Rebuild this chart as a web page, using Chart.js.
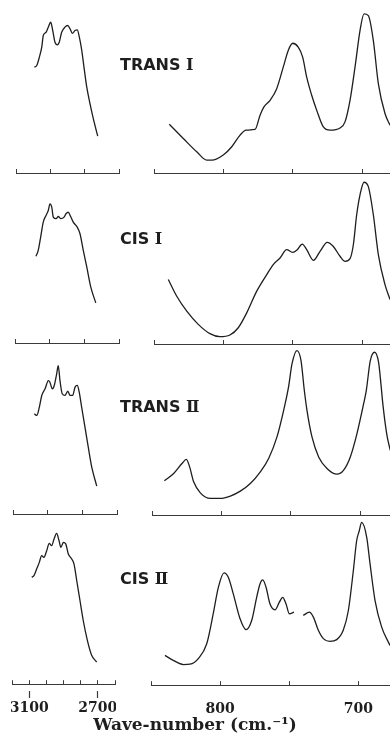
<!DOCTYPE html>
<html>
<head>
<meta charset="utf-8">
<script src="https://cdn.jsdelivr.net/npm/chart.js@4.4.1/dist/chart.umd.min.js"></script>
<style>
  html, body { margin: 0; padding: 0; background: #ffffff; }
  #stage { position: relative; width: 390px; height: 737px; overflow: hidden; background: #ffffff; }
  .box { position: absolute; }
  .box canvas { display: block; }
  .lab { position: absolute; font: bold 16px "DejaVu Sans", sans-serif; color: #1e1e1e; white-space: nowrap; line-height: 1; }
  .lab .num { font-family: "DejaVu Serif", serif; }
  #title { position: absolute; left: 0; width: 390px; text-align: center; font: bold 17px "DejaVu Serif", serif; color: #1e1e1e; white-space: nowrap; line-height: 1; }
</style>
</head>
<body>
<div id="stage"></div>
<script>
// ---------------- data (wave-number in cm-1, relative absorption 0..100) ----------------
const transI_chWn  = [3093, 3079, 3064, 3050, 3041, 3025, 3012, 2998, 2986, 2973, 2959, 2948, 2934, 2915, 2899, 2885, 2872, 2856, 2843, 2831, 2817, 2804, 2788, 2769, 2750, 2724];
const transI_chAbs = [62.5, 63.5, 68.4, 74.3, 81.2, 83.1, 86.1, 89.0, 84.1, 77.2, 75.7, 77.2, 83.1, 86.1, 87.1, 85.1, 82.5, 84.1, 84.5, 80.2, 72.4, 62.5, 50.8, 41.0, 32.2, 21.8];
const transI_lowWn  = [839, 828.9, 819.2, 812, 808.4, 800.1, 794, 788, 783.7, 777.2, 773.6, 770.8, 766.4, 761.6, 756.9, 753.3, 750.1, 746.1, 742.9, 740, 736.4, 732.8, 728, 723.2, 716, 712.4, 708.8, 705.2, 701.6, 698.7, 695.6, 692, 688.4, 683.6, 680];
const transI_lowAbs = [28.8, 20.4, 12.5, 7.6, 7.6, 10.6, 15.5, 22.4, 25.3, 25.7, 34.1, 39.0, 42.9, 49.8, 62.5, 72.4, 76.6, 74.3, 68.4, 56.6, 45.9, 37.1, 27.2, 25.3, 26.6, 30.2, 42.9, 62.5, 84.1, 93.9, 92.9, 78.2, 52.8, 35.1, 28.2];

const cisI_chWn  = [3079, 3066, 3052, 3037, 3021, 3008, 2998, 2988, 2979, 2963, 2950, 2935, 2917, 2906, 2893, 2879, 2864, 2841, 2825, 2806, 2786, 2763, 2734];
const cisI_chAbs = [51.2, 54.7, 62.5, 71.4, 75.3, 78.2, 82.2, 80.2, 74.3, 73.4, 74.7, 73.4, 74.3, 76.3, 77.2, 74.7, 71.4, 68.4, 64.5, 54.7, 44.9, 33.1, 23.7];
const cisI_lowWn  = [839.7, 833.6, 826.4, 818.1, 809.7, 802.5, 795.3, 789.3, 783.2, 776, 768.8, 764.1, 759.2, 754.4, 750.1, 746.8, 743.2, 740, 735.2, 730.4, 725.2, 720.8, 716, 712.4, 708.8, 706.4, 704, 701.6, 698.7, 695.6, 692, 688.4, 683.6, 680];
const cisI_lowAbs = [38.1, 28.2, 19.4, 11.6, 6.1, 4.3, 5.3, 9.6, 18.4, 31.2, 41.0, 46.9, 50.8, 55.7, 54.1, 55.7, 59.0, 55.7, 49.4, 54.7, 60.0, 57.6, 51.8, 48.8, 50.4, 58.6, 76.3, 88.1, 95.5, 92.9, 76.3, 52.8, 35.1, 26.3];

const transII_chWn  = [3077, 3063, 3048, 3034, 3015, 2996, 2987, 2973, 2962, 2948, 2939, 2929, 2916, 2900, 2884, 2871, 2856, 2842, 2829, 2818, 2804, 2785, 2766, 2746, 2717];
const transII_chAbs = [59.2, 58.2, 63.1, 70.0, 73.9, 78.8, 77.8, 73.9, 75.9, 82.8, 87.6, 78.8, 71.0, 70.0, 72.5, 70.0, 70.0, 74.9, 75.9, 71.9, 63.1, 51.4, 39.6, 27.8, 16.5];
const transII_lowWn  = [841.1, 834.4, 828.4, 825.3, 822.9, 820.0, 815.2, 808.0, 800.8, 793.6, 786.4, 779.2, 772.0, 766.0, 760.0, 755.2, 751.6, 749.2, 745.6, 742.7, 740.3, 738.4, 734.8, 730.0, 724.0, 716.8, 712.0, 707.2, 702.4, 697.6, 695.7, 692.8, 689.7, 686.8, 685.1, 683.7, 680.8, 678.4];
const transII_lowAbs = [20.2, 24.5, 30.4, 32.8, 28.4, 19.6, 13.1, 9.8, 9.8, 11.2, 14.1, 18.6, 25.5, 33.4, 46.1, 61.8, 75.9, 89.2, 97.1, 91.2, 73.5, 61.8, 46.1, 34.3, 27.5, 24.1, 26.5, 34.3, 48.1, 65.7, 73.5, 91.2, 96.1, 90.0, 77.0, 65.0, 47.0, 38.2];

const cisII_chWn  = [3085, 3072, 3056, 3041, 3027, 3014, 2998, 2983, 2969, 2955, 2940, 2926, 2915, 2901, 2887, 2872, 2852, 2839, 2823, 2804, 2785, 2761, 2736, 2707];
const cisII_chAbs = [63.1, 64.1, 68.1, 71.9, 75.9, 74.9, 78.8, 83.1, 81.8, 85.7, 89.0, 84.7, 80.8, 83.7, 82.8, 76.9, 73.9, 71.0, 61.2, 49.4, 37.6, 25.9, 17.1, 13.1];
const cisII_lowWn  = [839.9, 833.9, 826.6, 821.8, 815.8, 809.7, 805.0, 801.3, 797.2, 794.1, 790.5, 785.6, 781.3, 777.2, 773.6, 771.2, 769.2, 766.8, 764.0, 760.3, 757.2, 754.8, 752.4, 750.0, 746.6, 743.3, 739.9, 735.5, 732.6, 729.0, 725.4, 720.6, 715.7, 711.0, 707.3, 703.7, 701.3, 699.4, 697.7, 694.0, 691.6, 688.0, 683.2, 677.2];
const cisII_lowAbs = [17.6, 14.7, 12.2, 12.4, 15.7, 24.5, 42.2, 57.8, 66.3, 63.7, 53.9, 39.2, 32.8, 38.2, 51.9, 59.8, 62.2, 57.8, 48.1, 44.5, 49.0, 51.9, 48.1, 42.2, 43.1, null, 41.2, 43.1, 40.2, 32.4, 27.5, 25.9, 26.9, 32.4, 44.1, 67.6, 85.3, 91.2, 96.1, 87.2, 71.6, 50.0, 34.3, 23.5];

const panelNames    = ['TRANS', 'CIS', 'TRANS', 'CIS'];
const panelNumerals = ['\u2160', '\u2160', '\u2161', '\u2161'];
const chTickLabels  = [3100, 2700];
const lowTickLabels = [800, 700];
const axisTitle     = 'Wave-number (cm.\u207B\u00B9)';

// ---------------- layout (pixels) ----------------
const Y_MAX = 100, PANEL_PX = 170;
const INK = '#1e1e1e', AXIS = '#3a3a3a';
const layout = {
  axisYLeft:  [173, 343, 514, 684],
  axisYRight: [173, 344, 515, 685],
  leftX0:  [16, 15, 13, 12],            // pixel of 3200 cm-1
  leftPx:  [1/5.825, 1/5.769, 1/5.769, 1/5.825],
  rightX0: [154, 154, 152, 151],        // pixel of 850 cm-1
  rightPx: [1.3882, 1.3882, 1.3887, 1.383],
  labelTop: [57, 231, 399, 571],
  labelLeft: 120,
  titleTop: 716
};
const panels = [
  [transI_chWn, transI_chAbs, transI_lowWn, transI_lowAbs],
  [cisI_chWn, cisI_chAbs, cisI_lowWn, cisI_lowAbs],
  [transII_chWn, transII_chAbs, transII_lowWn, transII_lowAbs],
  [cisII_chWn, cisII_chAbs, cisII_lowWn, cisII_lowAbs]
];
const tickFont = { family: 'DejaVu Serif', size: 14, weight: 'bold' };
const stage = document.getElementById('stage');

function pts(wn, abs) { return wn.map((w, k) => ({ x: w, y: abs[k] })); }
// keep the plot area full width even when tick labels are shown
function noSidePadding(s) { s.paddingLeft = 0; s.paddingRight = 0; }

function xAxis(min, max, step, labels, padding) {
  return {
    type: 'linear', axis: 'x', position: 'bottom', reverse: true, min, max, weight: 0,
    border: { display: true, color: AXIS, width: 1 },
    grid: { drawOnChartArea: false, drawTicks: true, tickLength: -4, tickColor: AXIS, tickWidth: 1 },
    ticks: {
      display: !!labels, stepSize: step, includeBounds: false, autoSkip: false, maxRotation: 0,
      padding: padding || 0, font: tickFont, color: INK,
      callback: v => (labels && labels.includes(v)) ? String(v) : ''
    },
    afterFit: noSidePadding
  };
}

function addChart(x0, width, axisY, height, padBottom, scales) {
  const box = document.createElement('div');
  box.className = 'box';
  const W = Math.round(width) + 2;
  box.style.width = W + 'px'; box.style.height = height + 'px';
  const cv = document.createElement('canvas');
  cv.width = W; cv.height = height;
  cv.style.width = W + 'px'; cv.style.height = height + 'px';
  box.appendChild(cv);
  stage.appendChild(box);
  return { box, cv, x0, axisY, padBottom, scales };
}

function build(slot, data) {
  const chart = new Chart(slot.cv, {
    type: 'line',
    data: { datasets: [{
      data, xAxisID: 'x', yAxisID: 'y',
      borderColor: INK, borderWidth: 1.3, pointRadius: 0, fill: false,
      cubicInterpolationMode: 'monotone', spanGaps: false, clip: false, borderJoinStyle: 'round'
    }] },
    options: {
      responsive: false, animation: false, events: [],
      layout: { padding: { left: 1, right: 1, top: 0, bottom: slot.padBottom } },
      plugins: { legend: { display: false }, tooltip: { enabled: false } },
      scales: Object.assign({ y: { display: false, min: 0, max: Y_MAX } }, slot.scales)
    }
  });
  let ca = chart.chartArea;
  chart.options.scales.y.max = Y_MAX * (ca.bottom - ca.top) / PANEL_PX;
  chart.update('none');
  ca = chart.chartArea;
  slot.box.style.left = Math.round(slot.x0 - ca.left) + 'px';
  slot.box.style.top = Math.round(slot.axisY - ca.bottom) + 'px';
  return chart;
}

panels.forEach((p, i) => {
  const last = i === panels.length - 1;
  // C-H stretching region (left)
  const lw = 600 * layout.leftPx[i];
  const leftScales = { x: xAxis(2600, 3200, last ? 100 : 200, null) };
  if (last) {
    leftScales.x2 = {
      type: 'linear', axis: 'x', position: 'bottom', reverse: true, min: 2600, max: 3200, weight: 1,
      border: { display: false },
      grid: { drawOnChartArea: false, drawTicks: true, tickLength: 20, tickColor: AXIS, tickWidth: 1.2, tickBorderDash: [0, 11, 7, 40] },
      ticks: { stepSize: 100, includeBounds: false, autoSkip: false, maxRotation: 0, padding: 0, font: tickFont, color: INK,
               callback: v => String(v) },
      afterBuildTicks: s => { s.ticks = s.ticks.filter(t => chTickLabels.includes(t.value)); },
      afterFit: noSidePadding
    };
  }
  const ls = addChart(layout.leftX0[i], lw, layout.axisYLeft[i], last ? 230 : 180, last ? 4 : 8, leftScales);
  build(ls, pts(p[0], p[1]));

  // low wave-number region (right)
  const rx0 = layout.rightX0[i];
  const rw = 390 - rx0;
  const rmin = 850 - rw / layout.rightPx[i];
  const rightScales = { x: xAxis(rmin, 850, 50, last ? lowTickLabels : null, 20) };
  const rs = addChart(rx0, rw, layout.axisYRight[i], last ? 230 : 180, last ? 4 : 8, rightScales);
  build(rs, pts(p[2], p[3]));

  // panel label
  const lab = document.createElement('div');
  lab.className = 'lab';
  lab.style.left = layout.labelLeft + 'px';
  lab.style.top = layout.labelTop[i] + 'px';
  lab.appendChild(document.createTextNode(panelNames[i] + ' '));
  const num = document.createElement('span');
  num.className = 'num';
  num.textContent = panelNumerals[i];
  lab.appendChild(num);
  stage.appendChild(lab);
});

const title = document.createElement('div');
title.id = 'title';
title.style.top = layout.titleTop + 'px';
title.textContent = axisTitle;
stage.appendChild(title);
</script>
</body>
</html>
